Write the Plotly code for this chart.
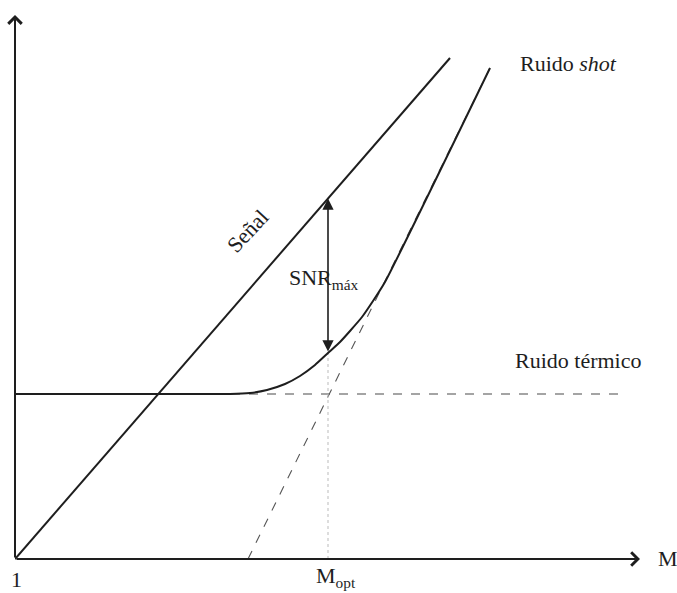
import numpy as np
import plotly.graph_objects as go

# esquema SNR frente a la ganancia M (unidades arbitrarias)
senal_m = [0, 435]
senal_y = [0, 501]
termico_m = [0, 612]
termico_y = [165, 165]
shot_m = [233, 475]
shot_y = [0, 491]
total_m = [0, 150, 215, 235, 252, 270, 285, 300, 313, 325, 335, 347, 358, 370, 475]
total_y = [165, 165, 165, 166, 169, 175, 183, 194, 206, 217, 228, 242, 258, 277, 491]
m_opt = 313
m_fin = 625
y_fin = 544

ink = '#1e1e1e'
fnt = dict(family='Liberation Serif, Times New Roman, serif', size=22, color=ink)

snr_arriba = float(np.interp(m_opt, senal_m, senal_y))
snr_abajo = float(np.interp(m_opt, total_m, total_y))

fig = go.Figure()

# lineas auxiliares
fig.add_trace(go.Scatter(x=termico_m, y=termico_y, mode='lines',
                         line=dict(color='#4a4a4a', width=1.1, dash='dash')))
fig.add_trace(go.Scatter(x=shot_m, y=shot_y, mode='lines',
                         line=dict(color='#555555', width=1.1, dash='dash')))
fig.add_trace(go.Scatter(x=[m_opt, m_opt], y=[0, snr_abajo], mode='lines',
                         line=dict(color='#bbbbbb', width=1, dash='dot')))

# curvas principales
fig.add_trace(go.Scatter(x=senal_m, y=senal_y, mode='lines',
                         line=dict(color=ink, width=2)))
fig.add_trace(go.Scatter(x=total_m, y=total_y, mode='lines',
                         line=dict(color=ink, width=2, shape='spline', smoothing=0.5)))

# ejes con flecha
fig.add_annotation(x=m_fin, y=0, ax=0, ay=0, axref='x', ayref='y', text='',
                   showarrow=True, arrowhead=4, arrowsize=1.3, arrowwidth=2, arrowcolor=ink)
fig.add_annotation(x=0, y=y_fin, ax=0, ay=0, axref='x', ayref='y', text='',
                   showarrow=True, arrowhead=4, arrowsize=1.3, arrowwidth=2, arrowcolor=ink)

# flecha SNR
fig.add_annotation(x=m_opt, y=snr_arriba, ax=m_opt, ay=snr_abajo, axref='x', ayref='y',
                   text='', showarrow=True, arrowside='end+start',
                   arrowhead=2, startarrowhead=2, arrowsize=1.4, startarrowsize=1.4,
                   arrowwidth=1.6, arrowcolor=ink)

# textos
fig.add_annotation(x=503, y=496, text='Ruido <i>shot</i>', showarrow=False,
                   xanchor='left', font=fnt)
fig.add_annotation(x=498, y=199, text='Ruido térmico', showarrow=False,
                   xanchor='left', font=fnt)
fig.add_annotation(x=272, y=280, text='SNR<sub>máx</sub>', showarrow=False,
                   xanchor='left', font=fnt)
fig.add_annotation(x=232, y=328, text='Señal', showarrow=False,
                   textangle=-47, font=fnt)
fig.add_annotation(x=1, y=-20, text='1', showarrow=False, font=fnt)
fig.add_annotation(x=m_opt - 14, y=-18, text='M<sub>opt</sub>', showarrow=False,
                   xanchor='left', font=fnt)
fig.add_annotation(x=641, y=1, text='M', showarrow=False, xanchor='left', font=fnt)

fig.update_layout(width=677, height=593,
                  margin=dict(l=15, r=0, t=5, b=0),
                  paper_bgcolor='white', plot_bgcolor='white',
                  showlegend=False,
                  xaxis=dict(range=[0, 662], visible=False, fixedrange=True),
                  yaxis=dict(range=[-34, 554], visible=False, fixedrange=True))

fig.write_html("out.html", config={'displayModeBar': False},
               post_script="document.body.style.margin='0';")
